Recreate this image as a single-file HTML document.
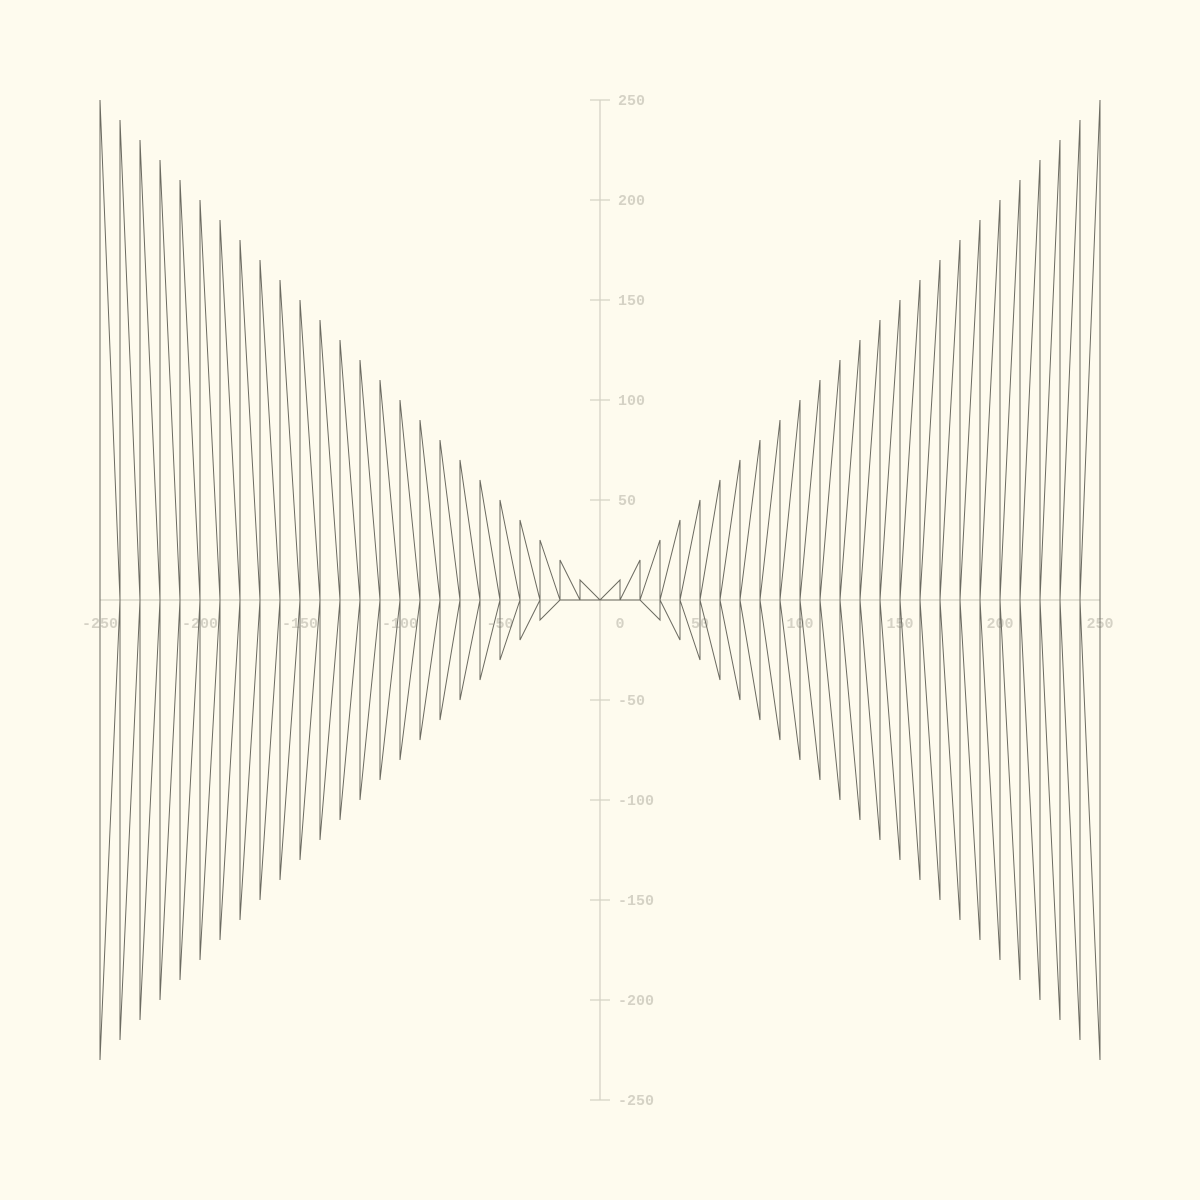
<!DOCTYPE html>
<html><head><meta charset="utf-8"><style>
html,body{margin:0;padding:0;background:#fefbee;}
svg{display:block}
text{font-family:"Liberation Mono",monospace;font-weight:bold;font-size:15px;fill:#d5d2c5;}
</style></head><body>
<svg id="chart" width="1200" height="1200" xmlns="http://www.w3.org/2000/svg">
<rect width="1200" height="1200" fill="#fefbee"/>
<g id="axes"></g>
<g id="marks"></g>
</svg>
<script>
const xTicks = [-250,-200,-150,-100,-50,0,50,100,150,200,250];
const yTicks = [250,200,150,100,50,-50,-100,-150,-200,-250];
const steps = [1,2,3,4,5,6,7,8,9,10,11,12,13,14,15,16,17,18,19,20,21,22,23,24,25];
const topValues = [10,20,30,40,50,60,70,80,90,100,110,120,130,140,150,160,170,180,190,200,210,220,230,240,250];
const bottomValues = [0,0,-10,-20,-30,-40,-50,-60,-70,-80,-90,-100,-110,-120,-130,-140,-150,-160,-170,-180,-190,-200,-210,-220,-230];

const NS = "http://www.w3.org/2000/svg";
const sx = v => 600 + v * 2;
const sy = v => 600 - v * 2;
const axes = document.getElementById('axes');
const marks = document.getElementById('marks');
function mk(tag, attrs, parent){const e=document.createElementNS(NS,tag);for(const k in attrs)e.setAttribute(k,attrs[k]);parent.appendChild(e);return e;}

let ax = mk('line',{x1:sx(-250),x2:sx(250),y1:sy(0),y2:sy(0),stroke:'#d5d2c5','stroke-width':1.3},axes);


let ay = mk('line',{x1:sx(0),x2:sx(0),y1:sy(250),y2:sy(-250),stroke:'#d5d2c5','stroke-width':1.3},axes);



xTicks.forEach(v=>{
  const t = mk('text',{x:sx(v)+(v===0?20:0),y:sy(0)+28,'text-anchor':'middle'},axes);
  t.textContent = v;
  
  
});
yTicks.forEach(v=>{
  const l = mk('line',{x1:sx(0)-10,x2:sx(0)+10,y1:sy(v),y2:sy(v),stroke:'#d5d2c5','stroke-width':1.3},axes);
  
  
  const t = mk('text',{x:sx(0)+(v<0?18:18),y:sy(v)+5},axes);
  t.textContent = v;
  
  
});

[-1,1].forEach(side=>{
  steps.forEach((k,i)=>{
    const x = side*k*10, xp = side*(k-1)*10;
    const pts = [[xp,0],[x,topValues[i]],[x,bottomValues[i]],[xp,0]];
    const p = mk('polyline',{points:pts.map(q=>sx(q[0])+','+sy(q[1])).join(' '),fill:'none',stroke:'#6b6a60','stroke-width':1,'stroke-linejoin':'miter'},marks);
    
    
  });
});
</script>
</body></html>
